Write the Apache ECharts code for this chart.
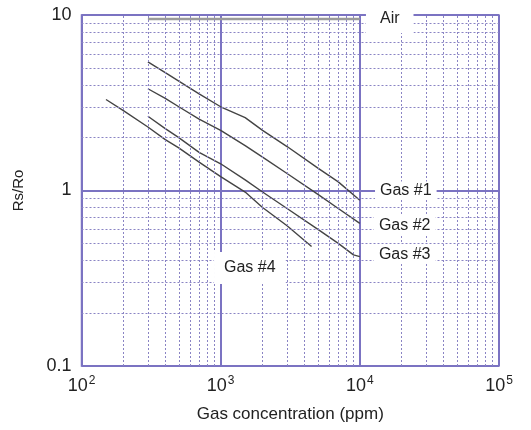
<!DOCTYPE html>
<html>
<head>
<meta charset="utf-8">
<script src="https://cdn.jsdelivr.net/npm/echarts@6/dist/echarts.min.js"></script>
<style>
  html, body { margin: 0; padding: 0; background: #fff; }
  #chart { width: 531px; height: 430px; }
</style>
</head>
<body>
<div id="chart"></div>
<script>
// values (ppm, Rs/Ro)
const airLine = [[300, 9.5], [10000, 9.5]];
const gas1 = [[300, 5.4], [400, 4.7], [500, 4.2], [700, 3.55], [1000, 3.0], [1500, 2.6], [2000, 2.2], [3000, 1.78], [5000, 1.34], [7000, 1.12], [10000, 0.88]];
const gas2 = [[300, 3.8], [400, 3.35], [500, 3.0], [700, 2.55], [1000, 2.2], [1500, 1.8], [2000, 1.55], [3000, 1.25], [5000, 0.95], [7000, 0.79], [10000, 0.65]];
const gas3 = [[300, 2.65], [400, 2.25], [500, 2.0], [700, 1.65], [1000, 1.42], [1500, 1.15], [2000, 0.98], [3000, 0.79], [5000, 0.6], [7000, 0.5], [9000, 0.43], [10000, 0.42]];
const gas4 = [[150, 3.3], [200, 2.85], [300, 2.3], [400, 1.95], [500, 1.75], [700, 1.45], [1000, 1.2], [1500, 0.98], [2000, 0.8], [3000, 0.63], [4500, 0.48]];

// curve labels, placed in data coordinates
const labelNames = ['Air', 'Gas #1', 'Gas #2', 'Gas #3', 'Gas #4'];
const labelCoords = [[16400, 9.49], [21400, 1.0], [21000, 0.635], [21000, 0.434], [1620, 0.362]];

// minor grid values
const xMinor = [200, 300, 400, 500, 600, 700, 800, 900, 2000, 3000, 4000, 5000, 6000, 7000, 8000, 9000, 20000, 30000, 40000, 50000, 60000, 70000, 80000, 90000];
const yMinor = [0.2, 0.3, 0.4, 0.5, 0.6, 0.7, 0.8, 0.9, 2, 3, 4, 5, 6, 7, 8, 9];

const font = 'Liberation Sans, Arial, sans-serif';
const gridColor = '#7b73c2';
const minorColor = '#8a84c4';
const curveColor = '#444';

const chart = echarts.init(document.getElementById('chart'), null, { renderer: 'canvas' });

const labelPadding = [[4, 14, 8, 14], [1, 5, 1, 5], [2, 5, 2, 5], [2, 5, 2, 5], [7, 10, 9, 10]];

function curve(data) {
  return {
    type: 'line', data: data, symbol: 'none', z: 3,
    lineStyle: { color: curveColor, width: 1.4 }
  };
}

chart.setOption({
  animation: false,
  backgroundColor: '#fff',
  grid: {
    left: 81.5, right: 32, top: 15, bottom: 64,
    show: true, borderColor: gridColor, borderWidth: 1.5
  },
  xAxis: {
    type: 'log', logBase: 10, min: 100, max: 100000,
    name: 'Gas concentration (ppm)', nameLocation: 'middle', nameGap: 40,
    nameTextStyle: { fontFamily: font, fontSize: 17, color: '#222' },
    axisLine: { show: false }, axisTick: { show: false },
    splitLine: { show: true, lineStyle: { color: gridColor, width: 2 } },
    axisLabel: {
      margin: 9,
      formatter: v => '{b|10}{s|' + Math.round(Math.log10(v)) + '}',
      rich: {
        b: { fontFamily: font, fontSize: 18, color: '#222' },
        s: { fontFamily: font, fontSize: 12, color: '#222', padding: [0, 0, 10, 1] }
      }
    }
  },
  yAxis: {
    type: 'log', logBase: 10, min: 0.1, max: 10,
    name: 'Rs/Ro', nameLocation: 'middle', nameGap: 55,
    nameTextStyle: { fontFamily: font, fontSize: 15, color: '#222' },
    axisLine: { show: false }, axisTick: { show: false },
    splitLine: { show: true, lineStyle: { color: gridColor, width: 2 } },
    axisLabel: {
      margin: 10, fontFamily: font, fontSize: 18, color: '#222',
      formatter: v => (v < 1 ? '0.1' : String(Math.round(v)))
    }
  },
  series: [
    {
      type: 'line', data: [], z: 1, silent: true,
      markLine: {
        silent: true, symbol: 'none', animation: false,
        label: { show: false },
        lineStyle: { color: minorColor, width: 1, type: [2, 2] },
        data: xMinor.map(v => ({ xAxis: v })).concat(yMinor.map(v => ({ yAxis: v })))
      }
    },
    {
      type: 'line', data: airLine, symbol: 'none', z: 2,
      lineStyle: { color: '#9a9a9a', width: 2.5 }
    },
    curve(gas1),
    curve(gas2),
    curve(gas3),
    curve(gas4),
    {
      type: 'line', data: [], z: 5,
      markPoint: {
        symbol: 'rect', symbolSize: 0, animation: false,
        data: labelNames.map((n, i) => ({
          name: n, coord: labelCoords[i],
          label: {
            show: true, position: 'inside', formatter: n,
            fontFamily: font, fontSize: 16, color: '#222',
            backgroundColor: '#fff', padding: labelPadding[i]
          }
        }))
      }
    }
  ]
});
</script>
</body>
</html>
